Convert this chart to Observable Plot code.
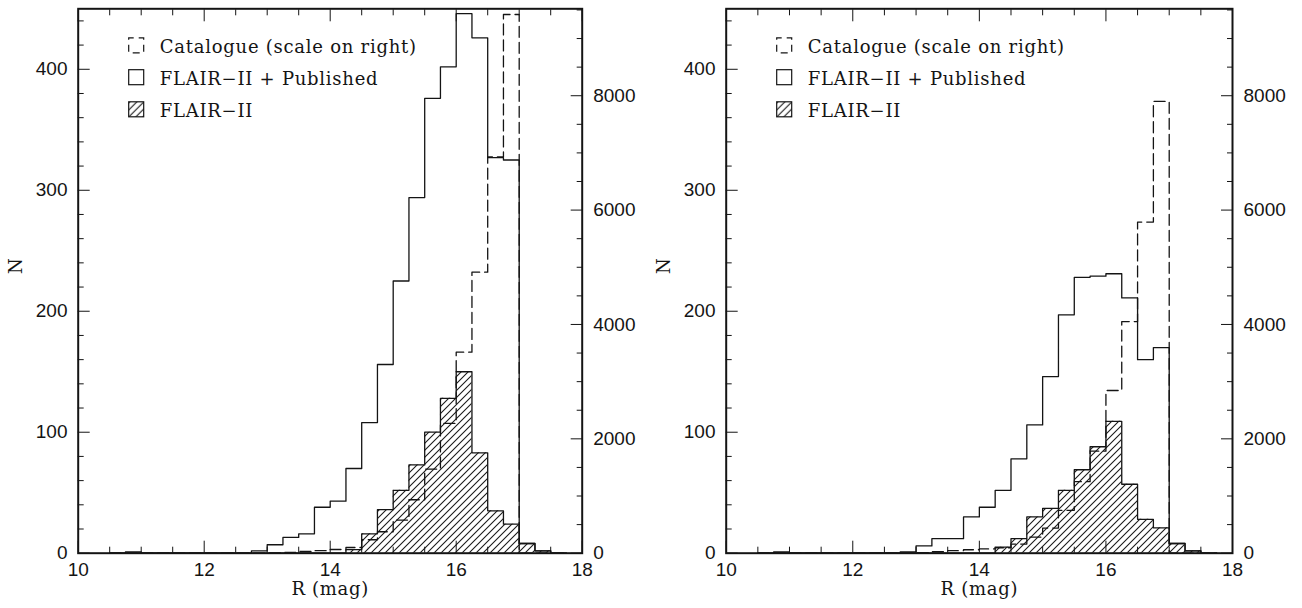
<!DOCTYPE html>
<html><head><meta charset="utf-8">
<script src="https://cdn.jsdelivr.net/npm/d3@7"></script>
<script src="https://cdn.jsdelivr.net/npm/@observablehq/plot@0.6"></script>
<style>
html,body{margin:0;padding:0;background:#fff}
#root{position:relative;width:1302px;height:608px;overflow:hidden;background:#fff}
.panel{position:absolute;top:0;width:651px;height:608px}
.panel svg{position:absolute;left:0;top:0}
</style></head><body>
<svg width="0" height="0" style="position:absolute"><defs>
<pattern id="hatch" patternUnits="userSpaceOnUse" width="7" height="7">
<path d="M-1,1 l2,-2 M0,7 l7,-7 M6,8 l2,-2" stroke="#1a1a1a" stroke-width="1.1"/>
</pattern></defs></svg>
<div id="root"></div>
<script>
// Bin left edges (mag), bin width 0.25
const binStart = [10.50,10.75,11.00,11.25,11.50,11.75,12.00,12.25,12.50,12.75,13.00,13.25,13.50,13.75,14.00,14.25,14.50,14.75,15.00,15.25,15.50,15.75,16.00,16.25,16.50,16.75,17.00,17.25,17.50];
const binEnd = 17.75;

// Left panel
const leftTotal = [0,1,0,0,0,0,0,0,0,2,7,13,16,38,43,70,108,156,225,294,376,402,446,426,327,325,8,2,0];
const leftFlair = [0,0,0,0,0,0,0,0,0,0,0,0,0,0,0,3,16,36,52,73,100,128,150,83,35,24,8,2,0];
const leftCatalogue = [0,0,0,0,0,0,0,0,0,0,5,15,30,45,65,100,235,375,580,935,1470,2270,3515,4915,6930,9420,0,0,0];

// Right panel
const rightTotal = [0,1,0,0,0,0,0,0,0,1,6,12,12,30,38,52,78,106,146,197,228,229,231,211,160,170,8,2,0];
const rightFlair = [0,0,0,0,0,0,0,0,0,0,0,0,0,0,0,5,12,30,37,52,69,88,109,57,28,21,8,2,0];
const rightCatalogue = [0,0,0,0,0,0,0,0,0,0,10,25,45,60,75,95,160,280,440,750,1250,1785,2845,4050,5790,7900,0,0,0];

// Axis ticks
const xMajor = [10,12,14,16,18];
const xMinor = [10.5,11,11.5,12.5,13,13.5,14.5,15,15.5,16.5,17,17.5];
const yMajor = [0,100,200,300,400];
const yMinor = [20,40,60,80,120,140,160,180,220,240,260,280,320,340,360,380,420,440];
const catMajor = [0,2000,4000,6000,8000];
const catMinor = [500,1000,1500,2500,3000,3500,4500,5000,5500,6500,7000,7500,8500,9000,9500];

const legendLabels = ["Catalogue (scale on right)", "FLAIR\u2212II + Published", "FLAIR\u2212II"];
const xLabel = "R (mag)";
const yLabel = "N";

const W = 651, H = 608, MT = 8.3, MB = 55.3;
const numFont = "'Liberation Sans', Arial, sans-serif";
const serif = "'DejaVu Serif', serif";
const ink = "#141414";

function rowsOf(vals) {
  return binStart.map((x, i) => ({x, v: vals[i]})).concat([{x: binEnd, v: 0}]);
}

function makePanel(offset, ml, mr, total, flair, cat) {
  const div = document.createElement("div");
  div.className = "panel";
  div.style.left = offset + "px";
  document.getElementById("root").appendChild(div);

  const common = {
    width: W, height: H, marginLeft: ml, marginRight: mr, marginTop: MT, marginBottom: MB,
    style: {fontFamily: numFont, fontSize: "19px", color: ink, background: "transparent", overflow: "visible"}
  };

  const main = Plot.plot({
    ...common,
    x: {domain: [10, 18]},
    y: {domain: [0, 450]},
    marks: [
      Plot.areaY(rowsOf(flair), {x: "x", y: "v", curve: "step-after", fill: "url(#hatch)"}),
      Plot.lineY(rowsOf(flair), {x: "x", y: "v", curve: "step-after", stroke: ink, strokeWidth: 1.3}),
      Plot.lineY(rowsOf(total), {x: "x", y: "v", curve: "step-after", stroke: ink, strokeWidth: 1.3}),
      // bottom axis
      Plot.axisX({anchor: "bottom", ticks: xMajor, tickSize: 0, tickPadding: 9.5, stroke: "none", tickFormat: d3.format("d"), label: null}),
      Plot.axisX({anchor: "bottom", ticks: xMajor, tickSize: 12, dy: -12, fill: "none", label: null}),
      Plot.axisX({anchor: "bottom", ticks: xMinor, tickSize: 6, dy: -6, fill: "none", label: null}),
      // top ticks
      Plot.axisX({anchor: "top", ticks: xMajor, tickSize: 12, dy: 12, fill: "none", label: null}),
      Plot.axisX({anchor: "top", ticks: xMinor, tickSize: 6, dy: 6, fill: "none", label: null}),
      // left axis
      Plot.axisY({anchor: "left", ticks: yMajor, tickSize: 0, tickPadding: 10.7, stroke: "none", tickFormat: d3.format("d"), label: null}),
      Plot.axisY({anchor: "left", ticks: yMajor, tickSize: 12, dx: 12, fill: "none", label: null}),
      Plot.axisY({anchor: "left", ticks: yMinor, tickSize: 6, dx: 6, fill: "none", label: null}),
      Plot.text([xLabel], {text: d => d, frameAnchor: "bottom", dy: 42, fontFamily: serif, fontSize: 18, fill: ink}),
      Plot.text([yLabel], {text: d => d, frameAnchor: "left", dx: -62.3, dy: -7, rotate: -90, fontFamily: serif, fontSize: 18, fill: ink}),
      Plot.frame({stroke: ink, strokeWidth: 2})
    ]
  });
  div.appendChild(main);
  d3.select(main).selectAll("text").filter(function() { return this.textContent === xLabel; })
    .attr("letter-spacing", "0.7px");

  const over = Plot.plot({
    ...common,
    x: {domain: [10, 18], axis: null},
    y: {domain: [0, 9520]},
    marks: [
      Plot.lineY(rowsOf(cat), {x: "x", y: "v", curve: "step-after", stroke: ink, strokeWidth: 1.3, strokeDasharray: "11,5"}),
      Plot.axisY({anchor: "right", ticks: catMajor, tickSize: 0, tickPadding: 11, stroke: "none", tickFormat: d3.format("d"), label: null}),
      Plot.axisY({anchor: "right", ticks: catMajor, tickSize: 12, dx: -12, fill: "none", label: null}),
      Plot.axisY({anchor: "right", ticks: catMinor, tickSize: 6, dx: -6, fill: "none", label: null})
    ]
  });
  div.appendChild(over);

  // legend (inside the frame, top-left)
  const svg = d3.select(over);
  const g = svg.append("g").attr("transform", `translate(${ml},0)`);
  const baselines = [53.3, 85.2, 117.3];
  legendLabels.forEach((lab, i) => {
    const b = baselines[i];
    const r = g.append("rect").attr("x", 51).attr("y", b - 15.5).attr("width", 15).attr("height", 15)
      .attr("stroke", ink).attr("stroke-width", 1.2);
    if (i === 0) r.attr("fill", "none").attr("stroke-dasharray", "7,5").attr("stroke-dashoffset", 2);
    else if (i === 1) r.attr("fill", "none");
    else r.attr("fill", "url(#hatch)");
    g.append("text").attr("x", 82).attr("y", b).text(lab)
      .attr("text-anchor", "start")
      .attr("letter-spacing", "0.75px")
      .attr("font-family", serif).attr("font-size", 18).attr("fill", ink);
  });
}

makePanel(0, 77.7, W - 581.7, leftTotal, leftFlair, leftCatalogue);
makePanel(651, 725.7 - 651, 1302 - 1232, rightTotal, rightFlair, rightCatalogue);
</script>
</body></html>
